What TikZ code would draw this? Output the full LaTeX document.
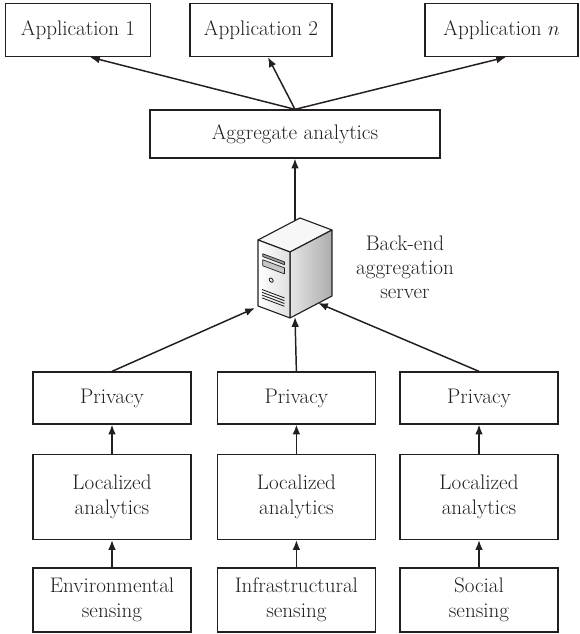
\documentclass[tikz,border=0pt]{standalone}
\usepackage{tikz}
\usetikzlibrary{arrows}
\usetikzlibrary{arrows.meta}

\definecolor{ink}{HTML}{231F20}

\tikzset{
  box/.style={draw=ink, line width=0.9pt, align=center, text=ink,
    font=\fontsize{15}{18}\selectfont, inner sep=0pt},
  tag/.style={align=center, text=ink, font=\fontsize{15}{17}\selectfont},
  flow/.style={-{Latex[length=7pt,width=5.5pt]}, draw=ink, line width=1.05pt},
}

\begin{document}
\begin{tikzpicture}
        \useasboundingbox (0,0) rectangle (14.5,15.85);

        % applications on top
        \draw (1.95,15.1) node [box, minimum width=3.625cm, minimum height=1.325cm] (app1) {Application 1};
        \draw (6.525,15.1) node [box, minimum width=3.55cm, minimum height=1.325cm] (app2) {Application 2};
        \draw (12.54,15.1) node [box, minimum width=3.825cm, minimum height=1.325cm] (appn) {Application $n$};

        \draw (7.375,12.5) node [box, minimum width=7.25cm, minimum height=1.2cm] (agg) {Aggregate analytics};

        % the three local pipelines
        \draw (2.8,5.9) node [box, minimum width=3.95cm, minimum height=1.3cm] (priv1) {Privacy};
        \draw (7.41,5.9) node [box, minimum width=3.95cm, minimum height=1.3cm] (priv2) {Privacy};
        \draw (11.975,5.9) node [box, minimum width=3.95cm, minimum height=1.3cm] (priv3) {Privacy};

        \draw (2.8,3.425) node [box, minimum width=3.95cm, minimum height=2.125cm] (loc1) {Localized\\analytics};
        \draw (7.41,3.425) node [box, minimum width=3.95cm, minimum height=2.125cm] (loc2) {Localized\\analytics};
        \draw (11.975,3.425) node [box, minimum width=3.95cm, minimum height=2.125cm] (loc3) {Localized\\analytics};

        \draw (2.8,0.85) node [box, minimum width=3.95cm, minimum height=1.6cm] (env) {Environmental\\sensing};
        \draw (7.41,0.85) node [box, minimum width=3.95cm, minimum height=1.6cm] (infra) {Infrastructural\\sensing};
        \draw (11.975,0.85) node [box, minimum width=3.95cm, minimum height=1.6cm] (soc) {Social\\sensing};

        \draw (10.125,9.175) node [tag] (srvtag) {Back-end\\aggregation\\server};

        % where the arrows meet the server
        \coordinate (srvtop) at (7.375,10.3);
        \coordinate (srvl) at (6.375,8.15);
        \coordinate (srvm) at (7.375,7.925);
        \coordinate (srvr) at (7.95,8.275);

        \draw[flow] (agg.north) -- ([xshift=0.3cm]app1.south);
        \draw[flow] (agg.north) -- ([xshift=0.175cm]app2.south);
        \draw[flow] (agg.north) -- ([xshift=0.11cm]appn.south);
        \draw[flow] (srvtop) -- (agg.south);

        \draw[flow] (priv1.north) -- (srvl);
        \draw[flow] (priv2.north) -- (srvm);
        \draw[flow] (priv3.north) -- (srvr);

        \foreach \i in {1,2,3} \draw[flow] (loc\i.north) -- (priv\i.south);
        \draw[flow] (env.north) -- (loc1.south);
        \draw[flow] (infra.north) -- (loc2.south);
        \draw[flow] (soc.north) -- (loc3.south);

        % server tower
        \begin{scope}[shift={(6.45,9.85)}, line width=0.8pt, draw=ink, line join=round]
            \draw[fill=gray!6] (0,0) -- (0.8,-0.3) -- (1.85,0.25) -- (1.05,0.55) -- cycle;
            \draw[left color=gray!20, right color=gray!65] (0.8,-0.3) -- (1.85,0.25) -- (1.85,-1.4) -- (0.8,-1.95) -- cycle;
            \begin{scope}[yslant=-0.375]
                \draw[left color=white, right color=gray!25] (0,0) rectangle (0.8,-1.65);
                \draw[fill=gray!75, line width=0.5pt] (0.12,-0.3) rectangle (0.66,-0.37);
                \draw[fill=gray!45, line width=0.5pt] (0.12,-0.45) rectangle (0.66,-0.6);
                \draw[line width=0.6pt] (0.33,-0.88) circle (0.05);
                \foreach \v in {1.2,1.27,1.34,1.41} \draw[line width=0.6pt] (0.1,-\v) -- (0.66,-\v);
            \end{scope}
        \end{scope}
    \end{tikzpicture}
\end{document}
